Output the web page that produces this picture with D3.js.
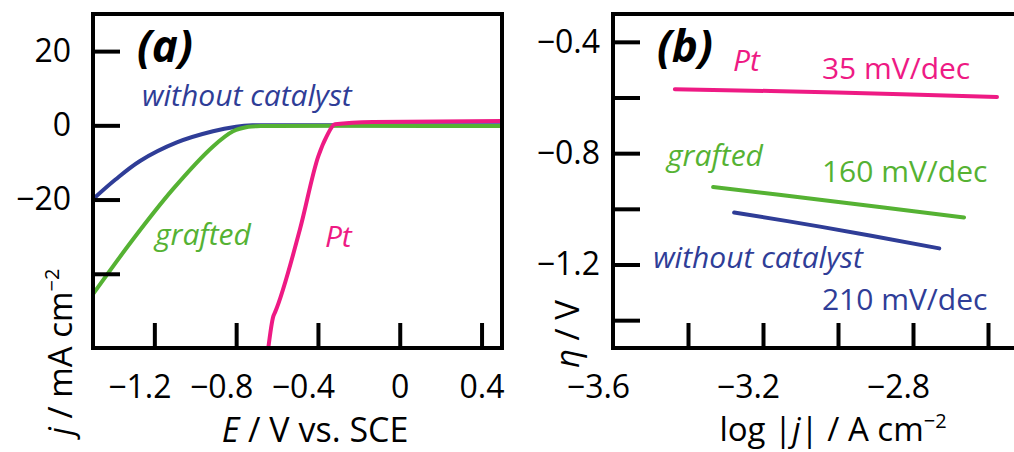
<!DOCTYPE html>
<html><head><meta charset="utf-8">
<script src="https://cdn.jsdelivr.net/npm/d3@7"></script>
<style>body{margin:0;background:#fff} svg text{font-family:"Open Sans",sans-serif}</style>
</head><body><svg id="c" width="1014" height="452"></svg>
<script>
// ---------- data: panel (a) ----------
const aXDomain = [-1.5, 0.5];
const aYDomain = [-60, 30];
const aTicksX = [-1.2, -0.8, -0.4, 0, 0.4];
const aTickLabelsX = ["−1.2", "−0.8", "−0.4", "0", "0.4"];
const aTicksY = [20, 0, -20, -40];
const aTickLabelsY = ["20", "0", "−20", ""];

const blueE = [-1.5, -1.39, -1.27, -1.09, -0.913, -0.8, -0.72, -0.6, 0.5];
const blueJ = [-19.9, -14.6, -9.6, -4.6, -1.6, -0.4, 0, 0, 0];
const greenE = [-1.5, -1.304, -1.109, -0.913, -0.815, -0.74, -0.68, 0.5];
const greenJ = [-45.5, -30.7, -17.2, -5.7, -1.6, -0.4, -0.2, -0.2];
const pinkE = [-0.645, -0.618, -0.610, -0.488, -0.398, -0.357, -0.317, -0.131, 0.5];
const pinkJ = [-61, -51.4, -50.4, -28.0, -8.3, -2.9, 0.3, 0.9, 1.2];

// ---------- data: panel (b) ----------
const bXDomain = [-3.6, -2.5];
const bYDomain = [-1.5, -0.3];
const bTicksX = [-3.6, -3.4, -3.2, -3.0, -2.8, -2.6];
const bTickLabelsX = ["−3.6", "", "−3.2", "", "−2.8", ""];
const bTicksY = [-0.4, -0.6, -0.8, -1.0, -1.2, -1.4];
const bTickLabelsY = ["−0.4", "", "−0.8", "", "−1.2", ""];

const tafelPtX = [-3.435, -3.003, -2.576];
const tafelPtY = [-0.570, -0.582, -0.598];
const tafelGrX = [-3.333, -3.048, -2.664];
const tafelGrY = [-0.9215, -0.967, -1.031];
const tafelNoX = [-3.277, -3.048, -2.730];
const tafelNoY = [-1.013, -1.064, -1.142];

const BLUE = "#2f3d97", GREEN = "#55b233", PINK = "#ee1a84";

const svg = d3.select("#c");

function panel(opts) {
  const g = svg.append("g");
  const x = d3.scaleLinear().domain(opts.xd).range(opts.xr);
  const y = d3.scaleLinear().domain(opts.yd).range([348, 14]);
  const id = opts.id;
  svg.append("clipPath").attr("id", id).append("rect")
    .attr("x", opts.xr[0]).attr("y", 14)
    .attr("width", opts.xr[1] - opts.xr[0]).attr("height", 334);

  opts.series.forEach(s => {
    const line = d3.line().x(d => x(d[0])).y(d => y(d[1]))
      .curve(s.mono ? d3.curveMonotoneX : d3.curveCatmullRom.alpha(0.5));
    g.append("path").attr("clip-path", `url(#${id})`)
      .attr("d", line(s.xs.map((v, i) => [v, s.ys[i]])))
      .attr("fill", "none").attr("stroke", s.color).attr("stroke-width", 4)
      .attr("stroke-linejoin", "round").attr("stroke-linecap", "round");
  });

  // x axis
  const ax = g.append("g").attr("transform", "translate(0,348)")
    .call(d3.axisBottom(x).tickValues(opts.tx).tickSize(-25).tickPadding(27)
      .tickFormat((d, i) => opts.txl[i]));
  ax.select(".domain").remove();
  ax.selectAll("line").attr("stroke", "#000").attr("stroke-width", 4)
    .attr("display", d => (d === opts.xd[0] || d === opts.xd[1]) ? "none" : null);
  ax.selectAll("text").attr("font-size", 32).attr("fill", "#000")
    .attr("dx", d => d < 0 ? -15 : 0);

  // y axis
  const ay = g.append("g").attr("transform", `translate(${opts.xr[0]},0)`)
    .call(d3.axisLeft(y).tickValues(opts.ty).tickSize(-27).tickPadding(opts.ypad)
      .tickFormat((d, i) => opts.tyl[i]));
  ay.select(".domain").remove();
  ay.selectAll("line").attr("stroke", "#000").attr("stroke-width", 4);
  ay.selectAll("text").attr("font-size", 32).attr("fill", "#000");

  // frame
  g.append("rect").attr("x", opts.xr[0]).attr("y", 14)
    .attr("width", opts.xr[1] - opts.xr[0]).attr("height", 334)
    .attr("fill", "none").attr("stroke", "#000").attr("stroke-width", 4);

  opts.labels.forEach(l => {
    g.append("text").attr("x", x(l.x)).attr("y", y(l.y))
      .attr("font-size", l.size).attr("font-style", l.italic ? "italic" : "normal")
      .attr("font-weight", l.bold ? 700 : 400).attr("fill", l.color).text(l.t);
  });
  return {x, y, g};
}

panel({
  id: "clipA", xd: aXDomain, xr: [93, 502], yd: aYDomain,
  tx: aTicksX, txl: aTickLabelsX, ty: aTicksY, tyl: aTickLabelsY, ypad: 22,
  series: [
    {xs: blueE, ys: blueJ, color: BLUE},
    {xs: greenE, ys: greenJ, color: GREEN},
    {xs: pinkE, ys: pinkJ, color: PINK, mono: true}
  ],
  labels: [
    {t: "(a)", x: -1.285, y: 17.0, size: 44, italic: true, bold: true, color: "#000"},
    {t: "without catalyst", x: -1.26, y: 5.1, size: 30, italic: true, color: BLUE},
    {t: "grafted", x: -1.197, y: -32.3, size: 30, italic: true, color: GREEN},
    {t: "Pt", x: -0.366, y: -32.9, size: 30, italic: true, color: PINK}
  ]
});

panel({
  id: "clipB", xd: bXDomain, xr: [613, 613 + 1.1 * 375], yd: bYDomain,
  tx: bTicksX, txl: bTickLabelsX, ty: bTicksY, tyl: bTickLabelsY, ypad: 13,
  series: [
    {xs: tafelPtX, ys: tafelPtY, color: PINK},
    {xs: tafelGrX, ys: tafelGrY, color: GREEN},
    {xs: tafelNoX, ys: tafelNoY, color: BLUE}
  ],
  labels: [
    {t: "(b)", x: -3.483, y: -0.472, size: 44, italic: true, bold: true, color: "#000"},
    {t: "Pt", x: -3.28, y: -0.505, size: 30, italic: true, color: PINK},
    {t: "35 mV/dec", x: -3.043, y: -0.534, size: 30, color: PINK},
    {t: "grafted", x: -3.456, y: -0.845, size: 30, italic: true, color: GREEN},
    {t: "160 mV/dec", x: -3.043, y: -0.902, size: 30, color: GREEN},
    {t: "without catalyst", x: -3.493, y: -1.213, size: 30, italic: true, color: BLUE},
    {t: "210 mV/dec", x: -3.043, y: -1.365, size: 30, color: BLUE}
  ]
});

// axis titles
const tA = svg.append("text").attr("x", 315).attr("y", 442).attr("text-anchor", "middle")
  .attr("font-size", 34).attr("fill", "#000");
tA.append("tspan").attr("font-style", "italic").text("E");
tA.append("tspan").text(" / V vs. SCE");

const tAY = svg.append("text").attr("transform", "translate(72,352) rotate(-90)")
  .attr("text-anchor", "middle").attr("font-size", 33).attr("fill", "#000");
tAY.append("tspan").attr("font-style", "italic").text("j");
tAY.append("tspan").text(" / mA cm");
tAY.append("tspan").attr("font-size", 20).attr("dy", -13).text("−2");

const tB = svg.append("text").attr("x", 833).attr("y", 441).attr("text-anchor", "middle")
  .attr("font-size", 33).attr("fill", "#000");
tB.append("tspan").text("log |");
tB.append("tspan").attr("font-style", "italic").text("j");
tB.append("tspan").text("| / A cm");
tB.append("tspan").attr("font-size", 20).attr("dy", -13).text("−2");

const tBY = svg.append("text").attr("transform", "translate(579,334) rotate(-90)")
  .attr("text-anchor", "middle").attr("font-size", 33).attr("fill", "#000");
tBY.append("tspan").attr("font-style", "italic").text("η");
tBY.append("tspan").text(" / V");
</script></body></html>
